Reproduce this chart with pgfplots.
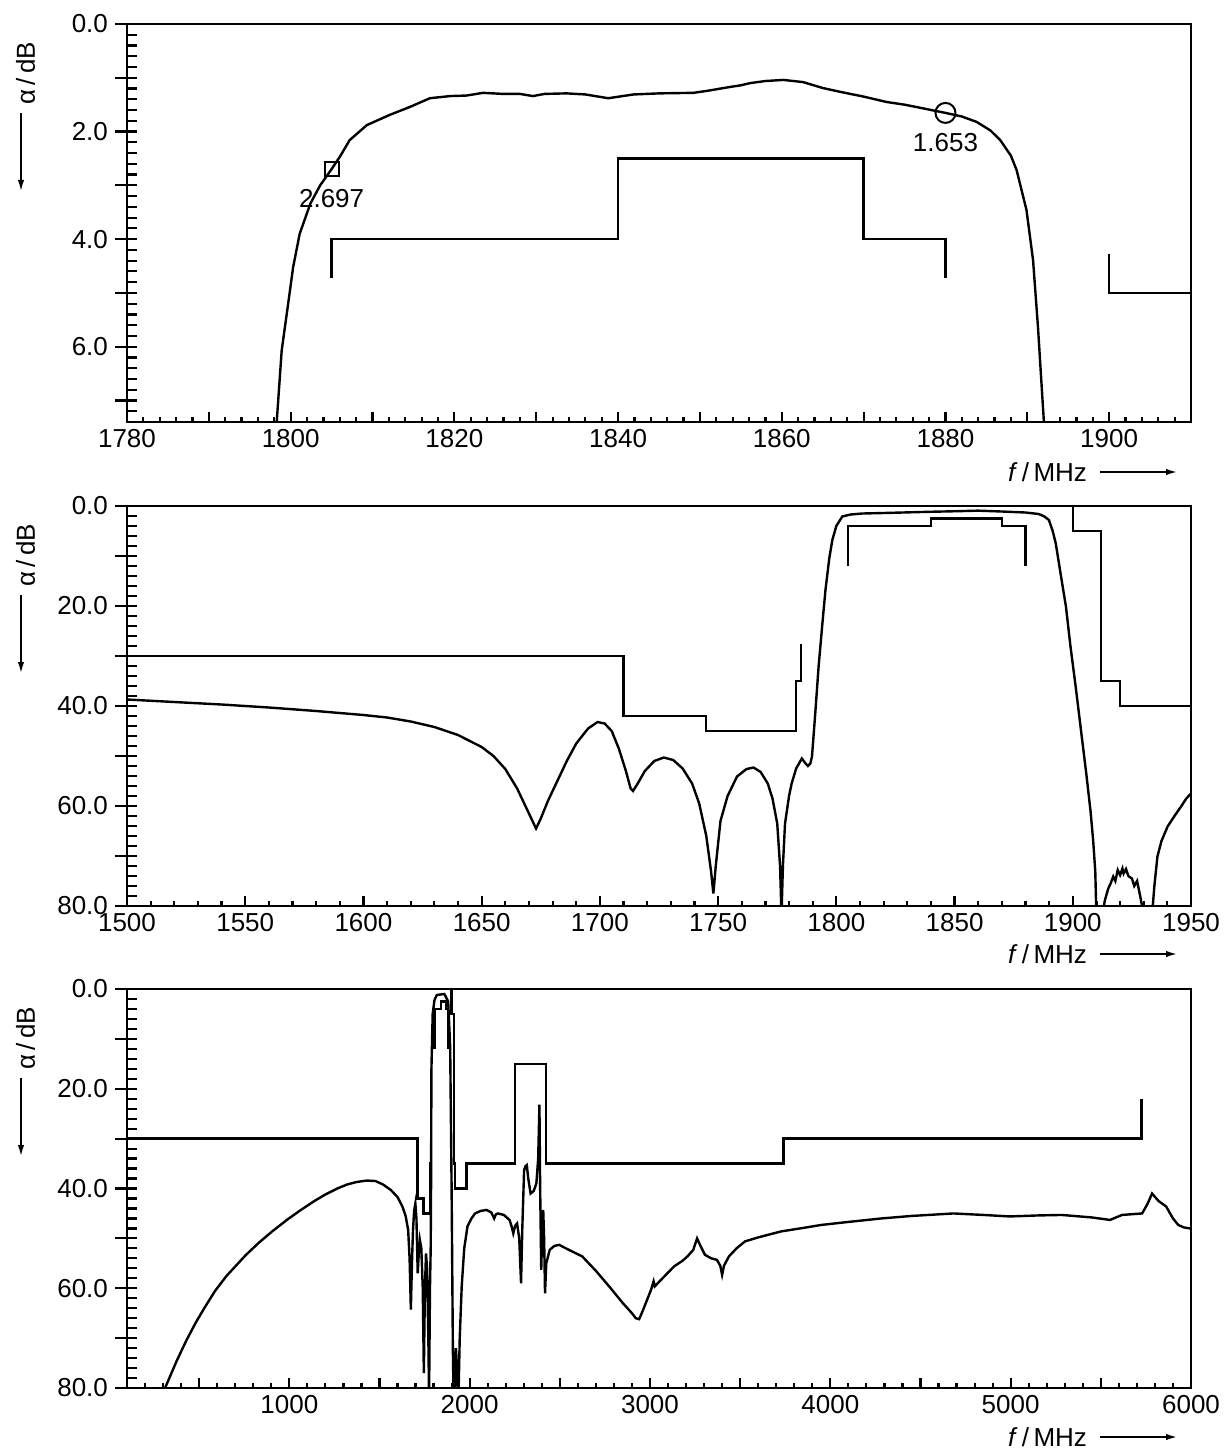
\documentclass[border=0pt]{standalone}
\usepackage{fontspec}
\setmainfont{Liberation Sans}
\usepackage{pgfplots}
\pgfplotsset{compat=1.18}
\usetikzlibrary{arrows.meta}

\pgfplotsset{
  panel/.style={
    scale only axis, width=532pt,
    anchor=north west,
    y dir=reverse,
    axis line style={line width=1.3pt},
    every tick/.style={line width=1.1pt, black},
    tick pos=left,
    tick label style={font=\fontsize{13}{15}\selectfont},
    every axis plot/.append style={line width=1.2pt, black},
  },
  % inner ticks: all y ticks and the x ticks
  inner/.style={panel, tick align=inside, major tick length=5pt, minor tick length=2.5pt,
    yticklabels={}},
  % outer part of the major y ticks, with their labels
  outer/.style={panel, tick align=outside, major tick length=6pt, xtick=\empty},
}

\begin{document}
\begin{tikzpicture}
\path[use as bounding box] (0pt,0pt) rectangle (615.5pt,-727.5pt);

% ---------- panel 1: passband
\begin{axis}[inner, at={(63.5pt,-12pt)}, height=199pt,
  xmin=1780, xmax=1910, ymin=0, ymax=7.4,
  xtick={1780,1790,...,1910},
  minor xtick={1780,1782,...,1910},
  xticklabels={1780,,1800,,1820,,1840,,1860,,1880,,1900,},
  ytick={0,0.2,...,7.4},
]
\addplot[sharp plot] coordinates {
 (1798.2,7.6) (1798.9,6.07) (1799.6,5.3) (1800.3,4.52) (1801.1,3.9)
 (1802.4,3.34) (1803.6,3.0) (1805.0,2.697) (1806.0,2.47) (1807.2,2.16)
 (1809.3,1.88) (1812.1,1.69) (1814.6,1.54) (1817.0,1.38) (1819.5,1.34)
 (1821.5,1.33) (1823.5,1.28) (1826,1.30) (1828,1.30) (1829.6,1.34)
 (1831,1.30) (1833.7,1.29) (1836,1.31) (1838.8,1.38) (1841.9,1.31)
 (1845,1.29) (1849.2,1.28) (1851,1.24) (1853.7,1.17) (1855,1.14)
 (1856.1,1.10) (1858,1.06) (1860.2,1.04) (1862.6,1.08) (1865,1.19)
 (1867.1,1.26) (1870,1.35) (1872.8,1.45) (1875,1.50) (1877.3,1.57)
 (1880,1.653) (1882,1.72) (1883.8,1.82) (1885.5,1.98) (1886.7,2.16)
 (1888,2.45) (1888.7,2.72) (1889.9,3.46) (1890.7,4.39) (1891.3,5.63)
 (1892.0,7.34) (1892.1,7.6)
};
% tolerance mask
\addplot[sharp plot] coordinates {
 (1805,4.73) (1805,4.0) (1840,4.0) (1840,2.5) (1870,2.5) (1870,4.0) (1880,4.0) (1880,4.73)
};
\addplot[sharp plot] coordinates {(1900,4.27) (1900,5.0) (1910,5.0)};
\addplot[only marks, mark=square, mark size=3.5pt, line width=1pt] coordinates {(1805,2.697)};
\addplot[only marks, mark=o, mark size=5pt, line width=1pt] coordinates {(1880,1.653)};
\node[font=\fontsize{13}{15}\selectfont, yshift=-14.5pt] at (axis cs:1805,2.697) {2.697};
\node[font=\fontsize{13}{15}\selectfont, yshift=-15pt] at (axis cs:1880,1.653) {1.653};
\end{axis}
\begin{axis}[outer, at={(63.5pt,-12pt)}, height=199pt,
  xmin=1780, xmax=1910, ymin=0, ymax=7.4,
  ytick={0,1,...,7},
  yticklabels={0.0,,2.0,,4.0,,6.0,},
]
\end{axis}

% ---------- panel 2: 1500-1950 MHz
\begin{axis}[inner, at={(63.5pt,-253pt)}, height=200pt,
  xmin=1500, xmax=1950, ymin=0, ymax=80,
  xtick={1500,1550,...,1950},
  minor xtick={1500,1510,...,1950},
  xticklabels={1500,1550,1600,1650,1700,1750,1800,1850,1900,1950},
  ytick={0,2,...,80},
]
\addplot[sharp plot] coordinates {
 (1500,38.7) (1520,39.2) (1540,39.7) (1560,40.3) (1580,41) (1600,41.8)
 (1610,42.3) (1620,43.1) (1630,44.2) (1640,45.8) (1650,48.2) (1655,50)
 (1660,52.6) (1665,56.5) (1669,60.5) (1672,63.5) (1673,64.5) (1675,62.5)
 (1678,59) (1682,55) (1686,51) (1690,47.5) (1695,44.5) (1699,43.2)
 (1702,43.5) (1705,45) (1708,48.5) (1711,53) (1713,56.5) (1714,57)
 (1716,55.5) (1719,53) (1723,51) (1727,50.3) (1731,50.8) (1735,52.5)
 (1739,55.5) (1742,59.5) (1745,66) (1747,73) (1748,77.5) (1749,72)
 (1751,63) (1754,58) (1758,54.1) (1762,52.6) (1765,52.3) (1768,53.2)
 (1771,55.5) (1773,58.5) (1775,63.5) (1776.2,72) (1776.8,82) (1777.4,72)
 (1778.3,63.5) (1780,58) (1781.1,55.5) (1783,52.5) (1785.4,50.5) (1787,51.5)
 (1788,52) (1789,51.5) (1789.7,50.1) (1791,42) (1792.5,32.1) (1794,24)
 (1795.4,16.8) (1797,10.5) (1798.3,6.8) (1800,4) (1802.5,2.1) (1806,1.7)
 (1811,1.5) (1820,1.4) (1828,1.3) (1840,1.15) (1850,1.05) (1860,0.93)
 (1870,1.1) (1880,1.3) (1885.6,1.6) (1888,2.1) (1889.9,2.8) (1891.5,5)
 (1892.8,7.5) (1895,14) (1897.1,20.1) (1899,28) (1901.4,36.8) (1903.5,45)
 (1905.7,53.5) (1907.5,61) (1908.6,66.8) (1909.5,73) (1910,82)
 (1912.5,82) (1913.5,79) (1915,76.5) (1916,75.5) (1917.1,74.1) (1918,75)
 (1919,72.8) (1920,73.8) (1921,72.5) (1921.5,73.5) (1922.5,72.6) (1923.5,74)
 (1925,74.5) (1926,76) (1927.2,75) (1928.5,78) (1929.5,80.5) (1930,82)
 (1933.5,82) (1934.5,76) (1935.8,70.1) (1937.5,67) (1940.1,64.1) (1943,62)
 (1945.8,60.1) (1948,58.5) (1950,57.5)
};
\addplot[sharp plot] coordinates {
 (1500,30) (1710,30) (1710,42) (1745,42) (1745,45) (1783,45) (1783,35) (1785,35) (1785,27.5)
};
\addplot[sharp plot] coordinates {
 (1805,12) (1805,4) (1840,4) (1840,2.5) (1870,2.5) (1870,4) (1880,4) (1880,12)
};
\addplot[sharp plot] coordinates {
 (1900,0) (1900,5) (1912,5) (1912,35) (1920,35) (1920,40) (1950,40)
};
\end{axis}
\begin{axis}[outer, at={(63.5pt,-253pt)}, height=200pt,
  xmin=1500, xmax=1950, ymin=0, ymax=80,
  ytick={0,10,...,80},
  yticklabels={0.0,,20.0,,40.0,,60.0,,80.0},
]
\end{axis}

% ---------- panel 3: wide band
\begin{axis}[inner, at={(63.5pt,-494.5pt)}, height=199.5pt,
  xmin=100, xmax=6000, ymin=0, ymax=80,
  xtick={500,1000,...,6000},
  minor xtick={100,200,...,6000},
  xticklabels={,1000,,2000,,3000,,4000,,5000,,6000},
  ytick={0,2,...,80},
]
\addplot[sharp plot] coordinates {
 (290,82) (311,80) (375,74.6) (430,70.4) (481,66.9) (530,63.9) (587,60.6)
 (650,57.6) (757,53.4) (830,50.9) (905,48.6) (990,46.2) (1060,44.4) (1139,42.5)
 (1200,41.2) (1266,40) (1320,39.2) (1372,38.7) (1430,38.4) (1478,38.5)
 (1520,39.2) (1563,40.3) (1600,41.7) (1627,43.6) (1645,45.5) (1659,48.3)
 (1667,54) (1674,64.3) (1680,55) (1686,48.3) (1692,44.5) (1699,43.0)
 (1705,46) (1712,57) (1718,53) (1724,50.3) (1732,52) (1740,60) (1746,77)
 (1752,60) (1758,53) (1764,56) (1771,70) (1775,82) (1780,60) (1784,52)
 (1786,40) (1788,16.2) (1795,5) (1805,2.2) (1818,1.2) (1860,1.0) (1881,2.5)
 (1892,11.5) (1900,40) (1907,72.3) (1911,82) (1916,82) (1920,74) (1924,72)
 (1930,76) (1934,82) (1938,82) (1945,70) (1956,59.6) (1970,52) (1988,47.6)
 (2010,46) (2030,45) (2060,44.5) (2094,44.3) (2120,44.8) (2136,46.0)
 (2145,45.2) (2157,45) (2190,45.3) (2221,46.3) (2232,47.5) (2242,49)
 (2252,47.5) (2263,47) (2275,50) (2285,59) (2292,48) (2302,36.3) (2310,35.5)
 (2317,35.3) (2325,38) (2338,41) (2355,40.5) (2370,39) (2380,34) (2387,23.2)
 (2391,40) (2397,56.3) (2402,49) (2408,44.3) (2413,50) (2418,61) (2425,55)
 (2444,52.3) (2470,51.5) (2497,51.3) (2550,52.3) (2624,53.6) (2700,56.5)
 (2773,59.6) (2850,63) (2900,65) (2921,66) (2940,66.2) (2960,64.5)
 (3006,60.3) (3020,58.6) (3027,59.6) (3080,57.6) (3134,55.6) (3180,54.5)
 (3208,53.6) (3240,52.3) (3261,50) (3280,51.5) (3305,53.3) (3340,54)
 (3371,54.3) (3390,55.5) (3400,57.3) (3410,55.5) (3438,53.6) (3480,52)
 (3527,50.6) (3600,49.8) (3727,48.6) (3850,47.9) (3950,47.3) (4100,46.7)
 (4283,46) (4450,45.5) (4683,45) (4850,45.3) (4995,45.6) (5150,45.4)
 (5284,45.3) (5450,45.8) (5551,46.3) (5617,45.3) (5729,45) (5760,43)
 (5784,41) (5820,42.5) (5862,43.6) (5900,46) (5929,47.3) (5960,47.8) (5995,48)
};
\addplot[sharp plot] coordinates {
 (100,30) (1710,30) (1710,42) (1745,42) (1745,45) (1783,45) (1783,35) (1785,35) (1785,27.5)
};
\addplot[sharp plot] coordinates {
 (1805,12) (1805,4) (1840,4) (1840,2.5) (1870,2.5) (1870,4) (1880,4) (1880,12)
};
\addplot[sharp plot] coordinates {
 (1900,0) (1900,5) (1912,5) (1912,35) (1920,35) (1920,40) (1983,40) (1983,35)
 (2250,35) (2250,15) (2425,15) (2425,35) (3740,35) (3740,30) (5725,30) (5725,22)
};
\end{axis}
\begin{axis}[outer, at={(63.5pt,-494.5pt)}, height=199.5pt,
  xmin=100, xmax=6000, ymin=0, ymax=80,
  ytick={0,10,...,80},
  yticklabels={0.0,,20.0,,40.0,,60.0,,80.0},
]
\end{axis}

% ---------- axis labels
\foreach \dy in {0pt,241pt,482.5pt} {
  \node[rotate=90, font=\fontsize{13}{15}\selectfont] at (12.75pt,-36.75pt-\dy) {α\,/\,dB};
  \draw[line width=1.1pt, -{Latex[length=6pt,width=3.2pt]}] (10.5pt,-56.5pt-\dy) -- (10.5pt,-96pt-\dy);
  \node[anchor=east, font=\fontsize{13}{15}\selectfont] at (547pt,-236pt-\dy) {\textit{f}\,/\,MHz};
  \draw[line width=1.1pt, -{Latex[length=6pt,width=3.2pt]}] (550pt,-236pt-\dy) -- (589pt,-236pt-\dy);
}
\end{tikzpicture}
\end{document}
